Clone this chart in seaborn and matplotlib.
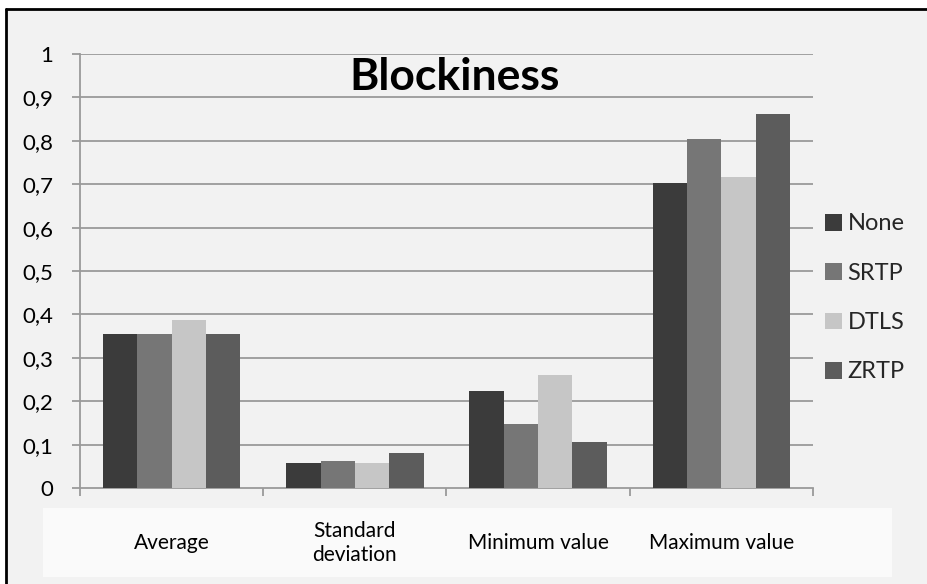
import matplotlib
matplotlib.use("Agg")
import matplotlib.pyplot as plt
from matplotlib.patches import Rectangle
from matplotlib.lines import Line2D
import pandas as pd
import seaborn as sns

# Chart data
categories = ["Average", "Standard\ndeviation", "Minimum value", "Maximum value"]
series_names = ["None", "SRTP", "DTLS", "ZRTP"]
none_vals = [0.354, 0.058, 0.223, 0.702]
srtp_vals = [0.354, 0.063, 0.147, 0.804]
dtls_vals = [0.386, 0.057, 0.260, 0.716]
zrtp_vals = [0.354, 0.081, 0.105, 0.861]
y_ticks = [0, 0.1, 0.2, 0.3, 0.4, 0.5, 0.6, 0.7, 0.8, 0.9, 1]
y_tick_labels = ["0", "0,1", "0,2", "0,3", "0,4", "0,5", "0,6", "0,7", "0,8", "0,9", "1"]

colors = ["#3b3b3b", "#767676", "#c6c6c6", "#5c5c5c"]

rows = []
for name, vals in zip(series_names, [none_vals, srtp_vals, dtls_vals, zrtp_vals]):
    for cat, v in zip(categories, vals):
        rows.append({"category": cat, "series": name, "value": v})
df = pd.DataFrame(rows)

sns.set_theme(style="white")
plt.rcParams["font.family"] = ["Lato", "DejaVu Sans"]

W, H = 928, 584
fig = plt.figure(figsize=(W / 100, H / 100), dpi=100, facecolor="white")

def fx(px):
    return px / W

def fy(py):
    return (H - py) / H

# Chart area background with black top/left frame
fig.patches.append(Rectangle((fx(6), 0), 1 - fx(6), fy(9), transform=fig.transFigure,
                             facecolor="#f2f2f2", edgecolor="none", zorder=-3))
fig.lines.append(Line2D([fx(6), fx(6)], [0, fy(9)], transform=fig.transFigure,
                        color="black", linewidth=2.0, zorder=-1))
fig.lines.append(Line2D([fx(6), 1], [fy(9), fy(9)], transform=fig.transFigure,
                        color="black", linewidth=2.0, zorder=-1))
# Lighter band behind the category labels
fig.patches.append(Rectangle((fx(43), fy(577)), fx(892) - fx(43), fy(508) - fy(577),
                             transform=fig.transFigure, facecolor="#fafafa",
                             edgecolor="none", zorder=-2))

ax = fig.add_axes([fx(80), fy(488), fx(813) - fx(80), fy(54) - fy(488)])
ax.set_facecolor("none")

sns.barplot(data=df, x="category", y="value", hue="series", order=categories,
            hue_order=series_names, palette=colors, saturation=1, width=0.75,
            edgecolor="none", linewidth=0, ax=ax, zorder=3)

ax.set_ylim(0, 1)
ax.set_xlim(-0.5, len(categories) - 0.5)
ax.set_yticks(y_ticks)
ax.set_yticklabels(y_tick_labels)
ax.set_xlabel("")
ax.set_ylabel("")

grid_color = "#9a9a9a"
for t in y_ticks[1:]:
    ax.axhline(t, color=grid_color, linewidth=1.3, zorder=1)

for side in ["top", "right"]:
    ax.spines[side].set_visible(False)
for side in ["left", "bottom"]:
    ax.spines[side].set_color(grid_color)
    ax.spines[side].set_linewidth(1.3)

ax.tick_params(axis="y", which="major", length=5.5, width=1.3, color=grid_color,
               pad=14, labelsize=16, labelcolor="black", left=True)
ax.set_xticks([i - 0.5 for i in range(len(categories) + 1)], minor=True)
ax.tick_params(axis="x", which="minor", length=5.5, width=1.3, color=grid_color,
               bottom=True)
ax.tick_params(axis="x", which="major", length=0, pad=39.6, labelsize=15,
               labelcolor="black")
for lbl in ax.get_xticklabels():
    lbl.set_va("center")
    lbl.set_linespacing(1.3)

fig.text(fx(455), fy(77), "Blockiness", ha="center", va="center",
         fontsize=32, fontweight="bold", color="black")

ax.legend(loc="center left", bbox_to_anchor=(fx(825), fy(298)),
          bbox_transform=fig.transFigure, frameon=False, fontsize=17,
          handlelength=0.7, handleheight=0.7, handletextpad=0.25,
          labelspacing=1.2, borderaxespad=0, borderpad=0)

fig.savefig("out.png", dpi=100, facecolor=fig.get_facecolor())
